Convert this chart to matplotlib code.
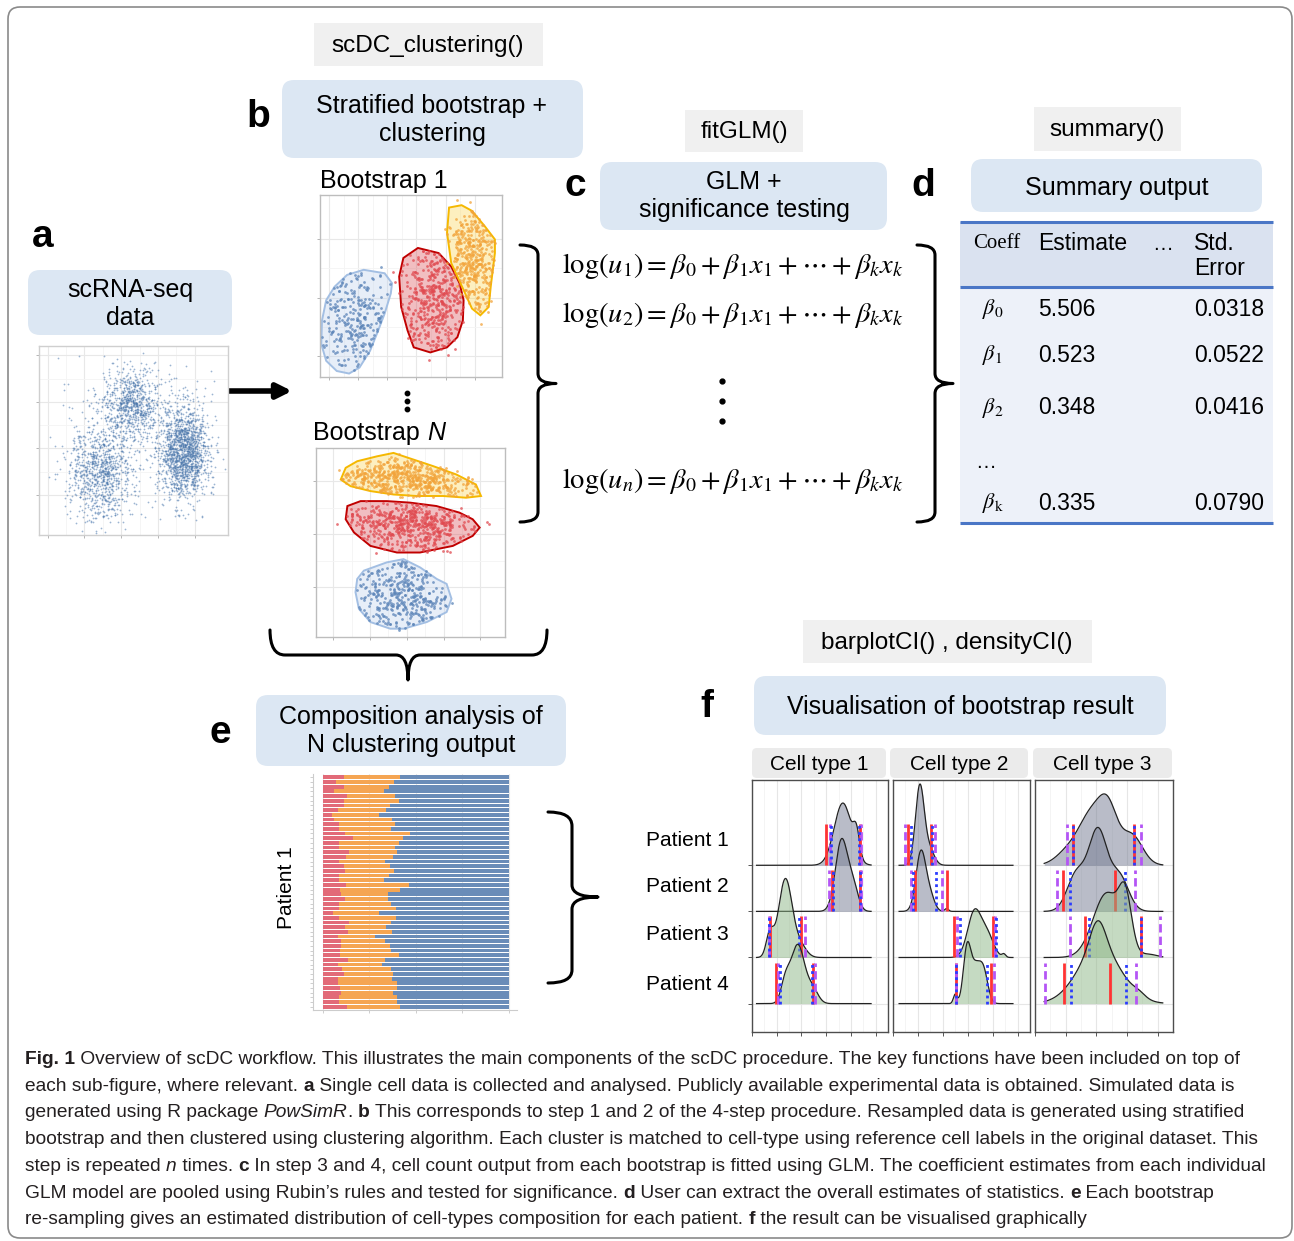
import numpy as np
import matplotlib
matplotlib.use("Agg")
import matplotlib.pyplot as plt
from matplotlib.patches import FancyBboxPatch, Rectangle, Polygon, PathPatch
from matplotlib.path import Path

W, H = 1294, 1241
SANS = ['Liberation Sans', 'DejaVu Sans']
NARROW = ['Liberation Sans Narrow', 'Liberation Sans', 'DejaVu Sans']
plt.rcParams['font.family'] = SANS
plt.rcParams['mathtext.fontset'] = 'stix'

# ---------------- data ----------------
# panel a: three cell clouds (axes fractions)
A_CENTERS = [(0.32, 0.34), (0.49, 0.68), (0.76, 0.44)]
A_SPREAD = [(0.085, 0.13), (0.08, 0.10), (0.065, 0.12)]
A_COUNTS = [900, 800, 1500]
A_BACKGROUND = 120

# panel b: cluster hulls (axes fractions, x from left, y from bottom)
B1_HULLS = {
    'blue': [(0.240, 0.589), (0.355, 0.570), (0.396, 0.515), (0.389, 0.459), (0.355, 0.348),
             (0.320, 0.256), (0.275, 0.144), (0.217, 0.052), (0.160, 0.019), (0.092, 0.033),
             (0.034, 0.089), (0.007, 0.181), (0.011, 0.311), (0.034, 0.422), (0.080, 0.496),
             (0.149, 0.561)],
    'red': [(0.538, 0.709), (0.652, 0.681), (0.721, 0.607), (0.767, 0.515), (0.789, 0.422),
            (0.785, 0.311), (0.755, 0.219), (0.698, 0.163), (0.606, 0.135), (0.515, 0.163),
            (0.481, 0.256), (0.446, 0.385), (0.435, 0.552), (0.458, 0.654)],
    'yellow': [(0.709, 0.931), (0.778, 0.944), (0.835, 0.913), (0.904, 0.830), (0.961, 0.756),
               (0.961, 0.681), (0.938, 0.496), (0.927, 0.385), (0.881, 0.339), (0.835, 0.376),
               (0.789, 0.478), (0.721, 0.626), (0.698, 0.793)],
}
B1_COUNTS = {'blue': 260, 'red': 420, 'yellow': 360}
BN_HULLS = {
    'yellow': [(0.131, 0.833), (0.157, 0.895), (0.218, 0.930), (0.323, 0.956), (0.410, 0.974),
               (0.515, 0.939), (0.620, 0.904), (0.742, 0.860), (0.846, 0.807), (0.873, 0.746),
               (0.794, 0.737), (0.672, 0.746), (0.532, 0.746), (0.410, 0.754), (0.288, 0.772),
               (0.183, 0.798)],
    'red': [(0.166, 0.693), (0.236, 0.719), (0.375, 0.719), (0.497, 0.711), (0.637, 0.693),
            (0.759, 0.658), (0.829, 0.623), (0.866, 0.579), (0.829, 0.535), (0.724, 0.482),
            (0.550, 0.447), (0.428, 0.447), (0.288, 0.482), (0.201, 0.553), (0.157, 0.623)],
    'blue': [(0.253, 0.351), (0.375, 0.395), (0.463, 0.412), (0.551, 0.368), (0.639, 0.307),
             (0.691, 0.281), (0.717, 0.202), (0.691, 0.132), (0.586, 0.079), (0.464, 0.044),
             (0.393, 0.044), (0.288, 0.079), (0.227, 0.149), (0.209, 0.237), (0.218, 0.307)],
}
BN_COUNTS = {'yellow': 520, 'red': 520, 'blue': 360}
OUTLIERS = {'blue': 2, 'red': 10, 'yellow': 14}

# panel d: summary table
TABLE_SUB = ['0', '1', '2', 'k']
TABLE_EST = ['5.506', '0.523', '0.348', '0.335']
TABLE_SE = ['0.0318', '0.0522', '0.0416', '0.0790']

# panel e: composition per bootstrap (red share, red + orange share), top bar first
E_RED = [0.114, 0.071, 0.111, 0.061, 0.129, 0.111, 0.111, 0.079, 0.048, 0.061,
         0.089, 0.084, 0.120, 0.161, 0.084, 0.084, 0.143, 0.125, 0.089, 0.114,
         0.120, 0.089, 0.089, 0.125, 0.093, 0.096, 0.120, 0.084, 0.089, 0.054,
         0.089, 0.143, 0.121, 0.136, 0.082, 0.096, 0.096, 0.093, 0.093, 0.136,
         0.082, 0.104, 0.114, 0.082, 0.082, 0.093, 0.096, 0.089, 0.089, 0.132]
E_RED_ORANGE = [0.414, 0.382, 0.357, 0.329, 0.389, 0.409, 0.361, 0.339, 0.300, 0.371,
                0.386, 0.364, 0.468, 0.429, 0.409, 0.386, 0.396, 0.375, 0.332, 0.361,
                0.382, 0.354, 0.329, 0.464, 0.414, 0.350, 0.350, 0.368, 0.391, 0.300,
                0.391, 0.368, 0.339, 0.371, 0.282, 0.332, 0.361, 0.368, 0.409, 0.332,
                0.318, 0.368, 0.379, 0.371, 0.400, 0.396, 0.375, 0.396, 0.400, 0.414]

# panel f: density ridges, components (centre, width, height) per cell type / patient
CELL_TYPES = ['Cell type 1', 'Cell type 2', 'Cell type 3']
PATIENTS = ['Patient 1', 'Patient 2', 'Patient 3', 'Patient 4']
F_DENS = [
    [[(0.735, 0.07, 1.35), (0.845, 0.025, 0.5)],
     [(0.725, 0.05, 1.55), (0.82, 0.04, 0.5)],
     [(0.27, 0.055, 1.7), (0.145, 0.03, 0.5), (0.39, 0.05, 0.25)],
     [(0.37, 0.055, 1.27), (0.27, 0.035, 0.45), (0.49, 0.045, 0.3)]],
    [[(0.215, 0.035, 1.7), (0.29, 0.04, 0.35)],
     [(0.225, 0.04, 1.3), (0.3, 0.035, 0.3), (0.43, 0.015, 0.06)],
     [(0.655, 0.055, 1.0), (0.76, 0.05, 0.45), (0.89, 0.015, 0.07)],
     [(0.595, 0.03, 1.2), (0.66, 0.035, 0.7), (0.725, 0.035, 0.72), (0.5, 0.015, 0.2)]],
    [[(0.22, 0.08, 0.3), (0.37, 0.08, 1.05), (0.48, 0.06, 1.0), (0.63, 0.07, 0.65)],
     [(0.41, 0.06, 1.72), (0.27, 0.06, 0.8), (0.55, 0.06, 0.75)],
     [(0.59, 0.04, 1.0), (0.47, 0.09, 1.4), (0.75, 0.05, 0.06)],
     [(0.41, 0.05, 0.6), (0.42, 0.14, 1.2), (0.68, 0.04, 0.08)]],
]
F_RANGE = [(0.037, 0.963), (0.049, 0.963), (0.06, 0.833)]
F_RED = [[(0.598, 0.873), (0.646, 0.873), (0.146, 0.398), (0.195, 0.493)],
         [(0.117, 0.307), (0.178, 0.432), (0.493, 0.805), (0.505, 0.788)],
         [(0.247, 0.643), (0.184, 0.524), (0.328, 0.689), (0.188, 0.487)]]
F_BLUE = [[(0.640, 0.868), (0.659, 0.871), (0.139, 0.378), (0.227, 0.483)],
          [(0.146, 0.312), (0.163, 0.346), (0.537, 0.824), (0.502, 0.756)],
          [(0.247, 0.643), (0.231, 0.586), (0.355, 0.689), (0.235, 0.592)]]
F_PURPLE = [[(0.634, 0.878), (0.622, 0.878), (0.134, 0.432), (0.212, 0.507)],
            [(0.098, 0.341), (0.141, 0.395), (0.517, 0.817), (0.502, 0.810)],
            [(0.210, 0.693), (0.142, 0.654), (0.229, 0.817), (0.065, 0.656)]]

CAPTION = [
    [('Fig. 1', 'b'), (' Overview of scDC workflow. This illustrates the main components of the scDC procedure. The key functions have been included on top of', 'n')],
    [('each sub-figure, where relevant. ', 'n'), ('a', 'b'), (' Single cell data is collected and analysed. Publicly available experimental data is obtained. Simulated data is', 'n')],
    [('generated using R package ', 'n'), ('PowSimR', 'i'), ('. ', 'n'), ('b', 'b'), (' This corresponds to step 1 and 2 of the 4-step procedure. Resampled data is generated using stratified', 'n')],
    [('bootstrap and then clustered using clustering algorithm. Each cluster is matched to cell-type using reference cell labels in the original dataset. This', 'n')],
    [('step is repeated ', 'n'), ('n', 'i'), (' times. ', 'n'), ('c', 'b'), (' In step 3 and 4, cell count output from each bootstrap is fitted using GLM. The coefficient estimates from each individual', 'n')],
    [('GLM model are pooled using Rubin\u2019s rules and tested for significance. ', 'n'), ('d', 'b'), (' User can extract the overall estimates of statistics. ', 'n'), ('e', 'b'), (' Each bootstrap', 'n')],
    [('re-sampling gives an estimated distribution of cell-types composition for each patient. ', 'n'), ('f', 'b'), (' the result can be visualised graphically', 'n')],
]

# ---------------- colours ----------------
BOX_BLUE = '#dce7f3'
BOX_GRAY = '#f0f0f0'
PT = {'blue': '#5b84b8', 'red': '#e04a50', 'yellow': '#f2a33a'}
HULL_FC = {'blue': '#bcd0ec', 'red': '#d8474e', 'yellow': '#fbd34a'}
HULL_EC = {'blue': '#a3bfe3', 'red': '#c00000', 'yellow': '#f5b800'}

fig = plt.figure(figsize=(W / 100, H / 100), dpi=100)
base = fig.add_axes([0, 0, 1, 1])
base.set_xlim(0, W)
base.set_ylim(H, 0)
base.axis('off')
renderer = fig.canvas.get_renderer()
rng = np.random.default_rng(11)


def px_axes(x0, y0, x1, y1):
    return fig.add_axes([x0 / W, 1 - y1 / H, (x1 - x0) / W, (y1 - y0) / H])


def box(x0, y0, x1, y1, color, rounded=True):
    if rounded:
        p = FancyBboxPatch((x0, y0), x1 - x0, y1 - y0,
                           boxstyle='round,pad=0,rounding_size=12', fc=color, ec='none')
    else:
        p = Rectangle((x0, y0), x1 - x0, y1 - y0, fc=color, ec='none')
    base.add_patch(p)


def label(x, y, s):
    base.text(x, y, s, fontsize=28, fontweight='bold', ha='center', va='center')


def box_text(x, y, s, size=18):
    base.text(x, y, s, fontsize=size, ha='center', va='center', linespacing=1.25)


def text_width(s, **kw):
    t = base.text(0, 0, '|' + s + '|', **kw)
    w1 = t.get_window_extent(renderer).width
    t.set_text('||')
    w0 = t.get_window_extent(renderer).width
    t.remove()
    return w1 - w0


STYLE = {'n': dict(), 'b': dict(fontweight='bold'), 'i': dict(fontstyle='italic')}


def rich(x, y, segs, size, family, color='black'):
    for s, st in segs:
        kw = dict(fontsize=size, family=family, **STYLE[st])
        base.text(x, y, s, ha='left', va='baseline', color=color, **kw)
        x += text_width(s, **kw)
    return x


def brace(points, lw=2.2):
    verts, codes = [], []
    for i, (kind, pts) in enumerate(points):
        if i == 0:
            verts.append(pts[0]); codes.append(Path.MOVETO)
            continue
        if kind == 'L':
            verts.append(pts[0]); codes.append(Path.LINETO)
        else:
            verts += list(pts); codes += [Path.CURVE3, Path.CURVE3]
    base.add_patch(PathPatch(Path(verts, codes), fc='none', ec='black', lw=lw,
                             capstyle='round', joinstyle='round'))


def right_brace(x, y0, y1, hook=18, tip=18, r=10):
    ym = (y0 + y1) / 2
    brace([('M', [(x - hook, y0)]), ('Q', [(x, y0), (x, y0 + r)]),
           ('L', [(x, ym - r)]), ('Q', [(x, ym), (x + tip, ym)]),
           ('Q', [(x, ym), (x, ym + r)]), ('L', [(x, y1 - r)]),
           ('Q', [(x, y1), (x - hook, y1)])])


def gg_axes(ax, xt, yt, frame='#cfcfcf'):
    xt, yt = np.array(xt), np.array(yt)
    ax.set_xticks(xt)
    ax.set_yticks(yt)
    ax.set_xticks((xt[:-1] + xt[1:]) / 2, minor=True)
    ax.set_yticks((yt[:-1] + yt[1:]) / 2, minor=True)
    ax.grid(True, which='major', color='#e8e8e8', lw=0.8)
    ax.grid(True, which='minor', color='#f4f4f4', lw=0.6)
    ax.tick_params(which='major', length=2.5, width=0.6, color='#aaaaaa',
                   labelbottom=False, labelleft=False)
    ax.tick_params(which='minor', length=0)
    for s in ax.spines.values():
        s.set_color(frame)
        s.set_linewidth(1.0)
    ax.set_axisbelow(True)


# ---------------- outer frame ----------------
base.add_patch(FancyBboxPatch((8, 7), 1284, 1231, boxstyle='round,pad=0,rounding_size=12',
                              fc='none', ec='#8a8a8a', lw=1.2))

# ---------------- panel a ----------------
label(43, 237, 'a')
box(28, 270, 232, 335, BOX_BLUE)
box_text(130, 304, 'scRNA-seq\ndata')
axa = px_axes(39, 346, 228, 535)
pts = [np.array(c) + rng.normal(size=(n, 2)) * np.array(s)
       for c, s, n in zip(A_CENTERS, A_SPREAD, A_COUNTS)]
pts.append(np.column_stack([rng.uniform(0.1, 0.95, A_BACKGROUND), rng.uniform(0.05, 0.95, A_BACKGROUND)]))
pts = np.vstack(pts)
axa.scatter(pts[:, 0], pts[:, 1], s=1.6, color='#4c78ad', alpha=0.55, lw=0)
axa.set_xlim(0, 1)
axa.set_ylim(0, 1)
gg_axes(axa, [0.045, 0.24, 0.435, 0.63, 0.825], [0.21, 0.46, 0.705, 0.95])
base.annotate('', xy=(292, 391), xytext=(229, 391),
              arrowprops=dict(arrowstyle='-|>', lw=4, color='black', mutation_scale=22,
                              shrinkA=0, shrinkB=0))

# ---------------- panel b ----------------
box(314, 23, 543, 66, BOX_GRAY, rounded=False)
base.text(428, 46, 'scDC_clustering()', fontsize=17.5, ha='center', va='center')
label(258, 117, 'b')
box(282, 80, 583, 158, BOX_BLUE)
box_text(432, 120, 'Stratified bootstrap +\nclustering')
rich(320, 188, [('Bootstrap 1', 'n')], 18, SANS)
rich(313, 440, [('Bootstrap ', 'n'), ('N', 'i')], 18, SANS)


def cluster_plot(ax, hulls, counts, xt, yt):
    for name, hull in hulls.items():
        hull = np.array(hull)
        path = Path(hull)
        c = hull.mean(axis=0)
        span = hull.max(axis=0) - hull.min(axis=0)
        inside = []
        while len(inside) < counts[name]:
            cand = c + rng.normal(size=(400, 2)) * span * 0.3
            inside.extend(cand[path.contains_points(cand)])
        inside = np.array(inside[:counts[name]])
        near = Path(c + (hull - c) * 1.2)
        cand = c + rng.normal(size=(600, 2)) * span * 0.35
        ok = near.contains_points(cand) & ~path.contains_points(cand)
        ok &= np.all((cand > 0.02) & (cand < 0.98), axis=1)
        outside = cand[ok][:OUTLIERS[name]]
        ax.add_patch(Polygon(hull, closed=True, fc=HULL_FC[name], alpha=0.35, ec='none'))
        ax.add_patch(Polygon(hull, closed=True, fc='none', ec=HULL_EC[name], lw=1.4))
        allp = np.vstack([inside, outside])
        ax.scatter(allp[:, 0], allp[:, 1], s=4, color=PT[name], alpha=0.75, lw=0)
    ax.set_xlim(0, 1)
    ax.set_ylim(0, 1)
    gg_axes(ax, xt, yt, frame='#bdbdbd')


axb1 = px_axes(320, 195, 502, 377)
cluster_plot(axb1, B1_HULLS, B1_COUNTS, [0.05, 0.21, 0.37, 0.53, 0.69, 0.85],
             [0.117, 0.435, 0.76])
axbn = px_axes(316, 448, 505, 637)
cluster_plot(axbn, BN_HULLS, BN_COUNTS, [0.092, 0.284, 0.48, 0.675, 0.867],
             [0.263, 0.544, 0.825])
base.plot([407, 407, 407], [393, 401, 409], 'o', color='black', ms=3.2)
right_brace(538, 245, 522)
brace([('M', [(270, 630)]), ('Q', [(270, 655), (285, 655)]), ('L', [(396, 655)]),
       ('Q', [(408, 655), (408, 680)]), ('Q', [(408, 655), (420, 655)]),
       ('L', [(532, 655)]), ('Q', [(547, 655), (547, 630)])])

# ---------------- panel c ----------------
label(575, 186, 'c')
box(685, 110, 803, 152, BOX_GRAY, rounded=False)
base.text(744, 132, 'fitGLM()', fontsize=17.5, ha='center', va='center')
box(600, 162, 887, 230, BOX_BLUE)
box_text(744, 196, 'GLM +\nsignificance testing')
for idx, yy in zip(['1', '2', 'n'], [266, 315, 481]):
    base.text(562, yy, r'$\log(u_{%s}) = \beta_0 + \beta_1 x_1 + \cdots + \beta_k x_k$' % idx,
              fontsize=20.5, ha='left', va='center')
base.plot([722, 722, 722], [381, 401, 421], 'o', color='black', ms=3.5)
right_brace(935, 245, 522)

# ---------------- panel d ----------------
label(923, 186, 'd')
box(1034, 107, 1181, 151, BOX_GRAY, rounded=False)
base.text(1107, 130, 'summary()', fontsize=17.5, ha='center', va='center')
box(971, 159, 1262, 212, BOX_BLUE)
base.text(1117, 188, 'Summary output', fontsize=18, ha='center', va='center')
base.add_patch(Rectangle((960, 222), 313, 65, fc='#dae2f0', ec='none'))
base.add_patch(Rectangle((960, 287), 313, 236, fc='#edf1f9', ec='none'))
for yy in [222, 287, 523]:
    base.plot([960, 1273], [yy, yy], color='#4a76c6', lw=2.2, solid_capstyle='butt')
base.text(973, 244, 'Coeff', fontsize=15, family=['Liberation Serif'], ha='left', va='center')
base.text(1038, 244, 'Estimate', fontsize=16.5, family=NARROW, ha='left', va='center')
base.text(1152, 244, '\u2026', fontsize=15, family=NARROW, ha='left', va='center')
base.text(1194, 256, 'Std.\nError', fontsize=16.5, family=NARROW, ha='left', va='center',
          linespacing=1.12)
for sub, est, se, yy in zip(TABLE_SUB, TABLE_EST, TABLE_SE, [309, 355, 408, 503]):
    sub_tex = r'\mathrm{k}' if sub == 'k' else sub
    base.text(982, yy, r'$\beta_{%s}$' % sub_tex, fontsize=16, ha='left', va='center')
    base.text(1038, yy, est, fontsize=16.5, family=NARROW, ha='left', va='center')
    base.text(1194, yy, se, fontsize=16.5, family=NARROW, ha='left', va='center')
base.text(975, 463, '\u2026', fontsize=15, family=NARROW, ha='left', va='center')

# ---------------- panel e ----------------
label(220, 733, 'e')
box(256, 695, 566, 766, BOX_BLUE)
box_text(411, 731, 'Composition analysis of\nN clustering output')
axe = px_axes(313, 774, 517, 1010)
red = np.array(E_RED)
cum = np.array(E_RED_ORANGE)
yb = np.arange(len(red))[::-1]
axe.barh(yb, red, left=0, height=0.8, color='#e26a78', lw=0)
axe.barh(yb, cum - red, left=red, height=0.8, color='#f5a552', lw=0)
axe.barh(yb, 1 - cum, left=cum, height=0.8, color='#6a8cb8', lw=0)
axe.set_xlim(-0.053, 1.043)
axe.set_ylim(-0.7, len(red) - 0.3)
axe.set_xticks([0, 0.25, 0.5, 0.75, 1.0])
axe.set_yticks(yb)
axe.grid(True, axis='x', color='#e8e8e8', lw=0.8)
axe.set_axisbelow(True)
axe.tick_params(length=2, width=0.5, color='#bbbbbb', labelbottom=False, labelleft=False)
for k, s in axe.spines.items():
    s.set_visible(k in ('left', 'bottom'))
    s.set_color('#cccccc')
base.text(287, 888, 'Patient 1', fontsize=15, rotation=90, ha='center', va='center')
brace([('M', [(548, 812)]), ('Q', [(572, 812), (572, 826)]), ('L', [(572, 885)]),
       ('Q', [(572, 897), (598, 897)]), ('Q', [(572, 897), (572, 909)]),
       ('L', [(572, 970)]), ('Q', [(572, 983), (548, 983)])])

# ---------------- panel f ----------------
box(803, 620, 1092, 663, BOX_GRAY, rounded=False)
base.text(947, 643, 'barplotCI() , densityCI()', fontsize=17.5, ha='center', va='center')
label(707, 707, 'f')
box(754, 676, 1166, 735, BOX_BLUE)
base.text(960, 707, 'Visualisation of bootstrap result', fontsize=18, ha='center', va='center')

panel_px = [(752, 888), (893, 1030), (1035, 1173)]
strip_px = [(752, 886), (890, 1028), (1033, 1172)]
panel_xlim = [(0.0, 1.0), (0.0, 1.0), (0.0186, 0.874)]
panel_ticks = [[0, 0.2, 0.4, 0.6, 0.8, 1.0], [0, 0.2, 0.4, 0.6, 0.8, 1.0], [0.0, 0.2, 0.4, 0.6, 0.8]]
GRAY_FILL, GREEN_FILL = '#747b92', '#8db686'
for ci in range(3):
    sx0, sx1 = strip_px[ci]
    base.add_patch(FancyBboxPatch((sx0, 748), sx1 - sx0, 30, boxstyle='round,pad=0,rounding_size=5',
                                  fc='#ebebeb', ec='none'))
    base.text((sx0 + sx1) / 2, 765, CELL_TYPES[ci], fontsize=15, ha='center', va='center')
    x0, x1 = panel_px[ci]
    ax = px_axes(x0, 780, x1, 1032)
    ax.set_xlim(*panel_xlim[ci])
    ax.set_ylim(0.384, 5.85)
    xt = np.array(panel_ticks[ci])
    ax.set_xticks(xt)
    ax.set_xticks(np.append(xt[:-1] + 0.1, xt[-1] + 0.1), minor=True)
    ax.set_yticks([1, 2, 3, 4])
    ax.grid(True, which='major', color='#e6e6e6', lw=0.8)
    ax.grid(True, which='minor', axis='x', color='#f3f3f3', lw=0.6)
    ax.set_axisbelow(True)
    ax.tick_params(which='major', length=3, width=0.7, color='#555555',
                   labelbottom=False, labelleft=False, left=(ci == 0))
    ax.tick_params(which='minor', length=0)
    for s in ax.spines.values():
        s.set_color('#4d4d4d')
        s.set_linewidth(1.0)
    xs = np.linspace(F_RANGE[ci][0], F_RANGE[ci][1], 500)
    for pi in range(4):
        b0 = 4 - pi
        yv = np.zeros_like(xs)
        for mu, sd, h in F_DENS[ci][pi]:
            yv += h * np.exp(-0.5 * ((xs - mu) / sd) ** 2)
        z = 2 + pi * 3
        ax.fill_between(xs, b0, b0 + yv, color=GRAY_FILL if pi < 2 else GREEN_FILL,
                        alpha=0.5, lw=0, zorder=z)
        ax.plot(xs, b0 + yv, color='#222222', lw=0.9, zorder=z + 0.5)
        ax.vlines(list(F_RED[ci][pi]), b0, b0 + 0.89, color='#ff3333', lw=2.0, zorder=z + 1)
        ax.vlines(list(F_PURPLE[ci][pi]), b0, b0 + 0.89, color='#b455f5', lw=2.0,
                  linestyles=(0, (3, 1.5)), zorder=z + 1.1)
        ax.vlines(list(F_BLUE[ci][pi]), b0, b0 + 0.89, color='#2b3cff', lw=2.0,
                  linestyles=(0, (1, 1.2)), zorder=z + 1.2)
for pi, yy in enumerate([840, 887, 934, 985]):
    base.text(729, yy, PATIENTS[pi], fontsize=15, ha='right', va='center')

# ---------------- caption ----------------
ref_w = sum(text_width(s, fontsize=10, family=NARROW, **STYLE[st]) for s, st in CAPTION[4])
cap_size = 10 * (1270 - 25) / ref_w
for li, segs in enumerate(CAPTION):
    rich(25, 1064 + li * 26.7, segs, cap_size, NARROW, color='#231f20')

fig.savefig('out.png', dpi=100)
